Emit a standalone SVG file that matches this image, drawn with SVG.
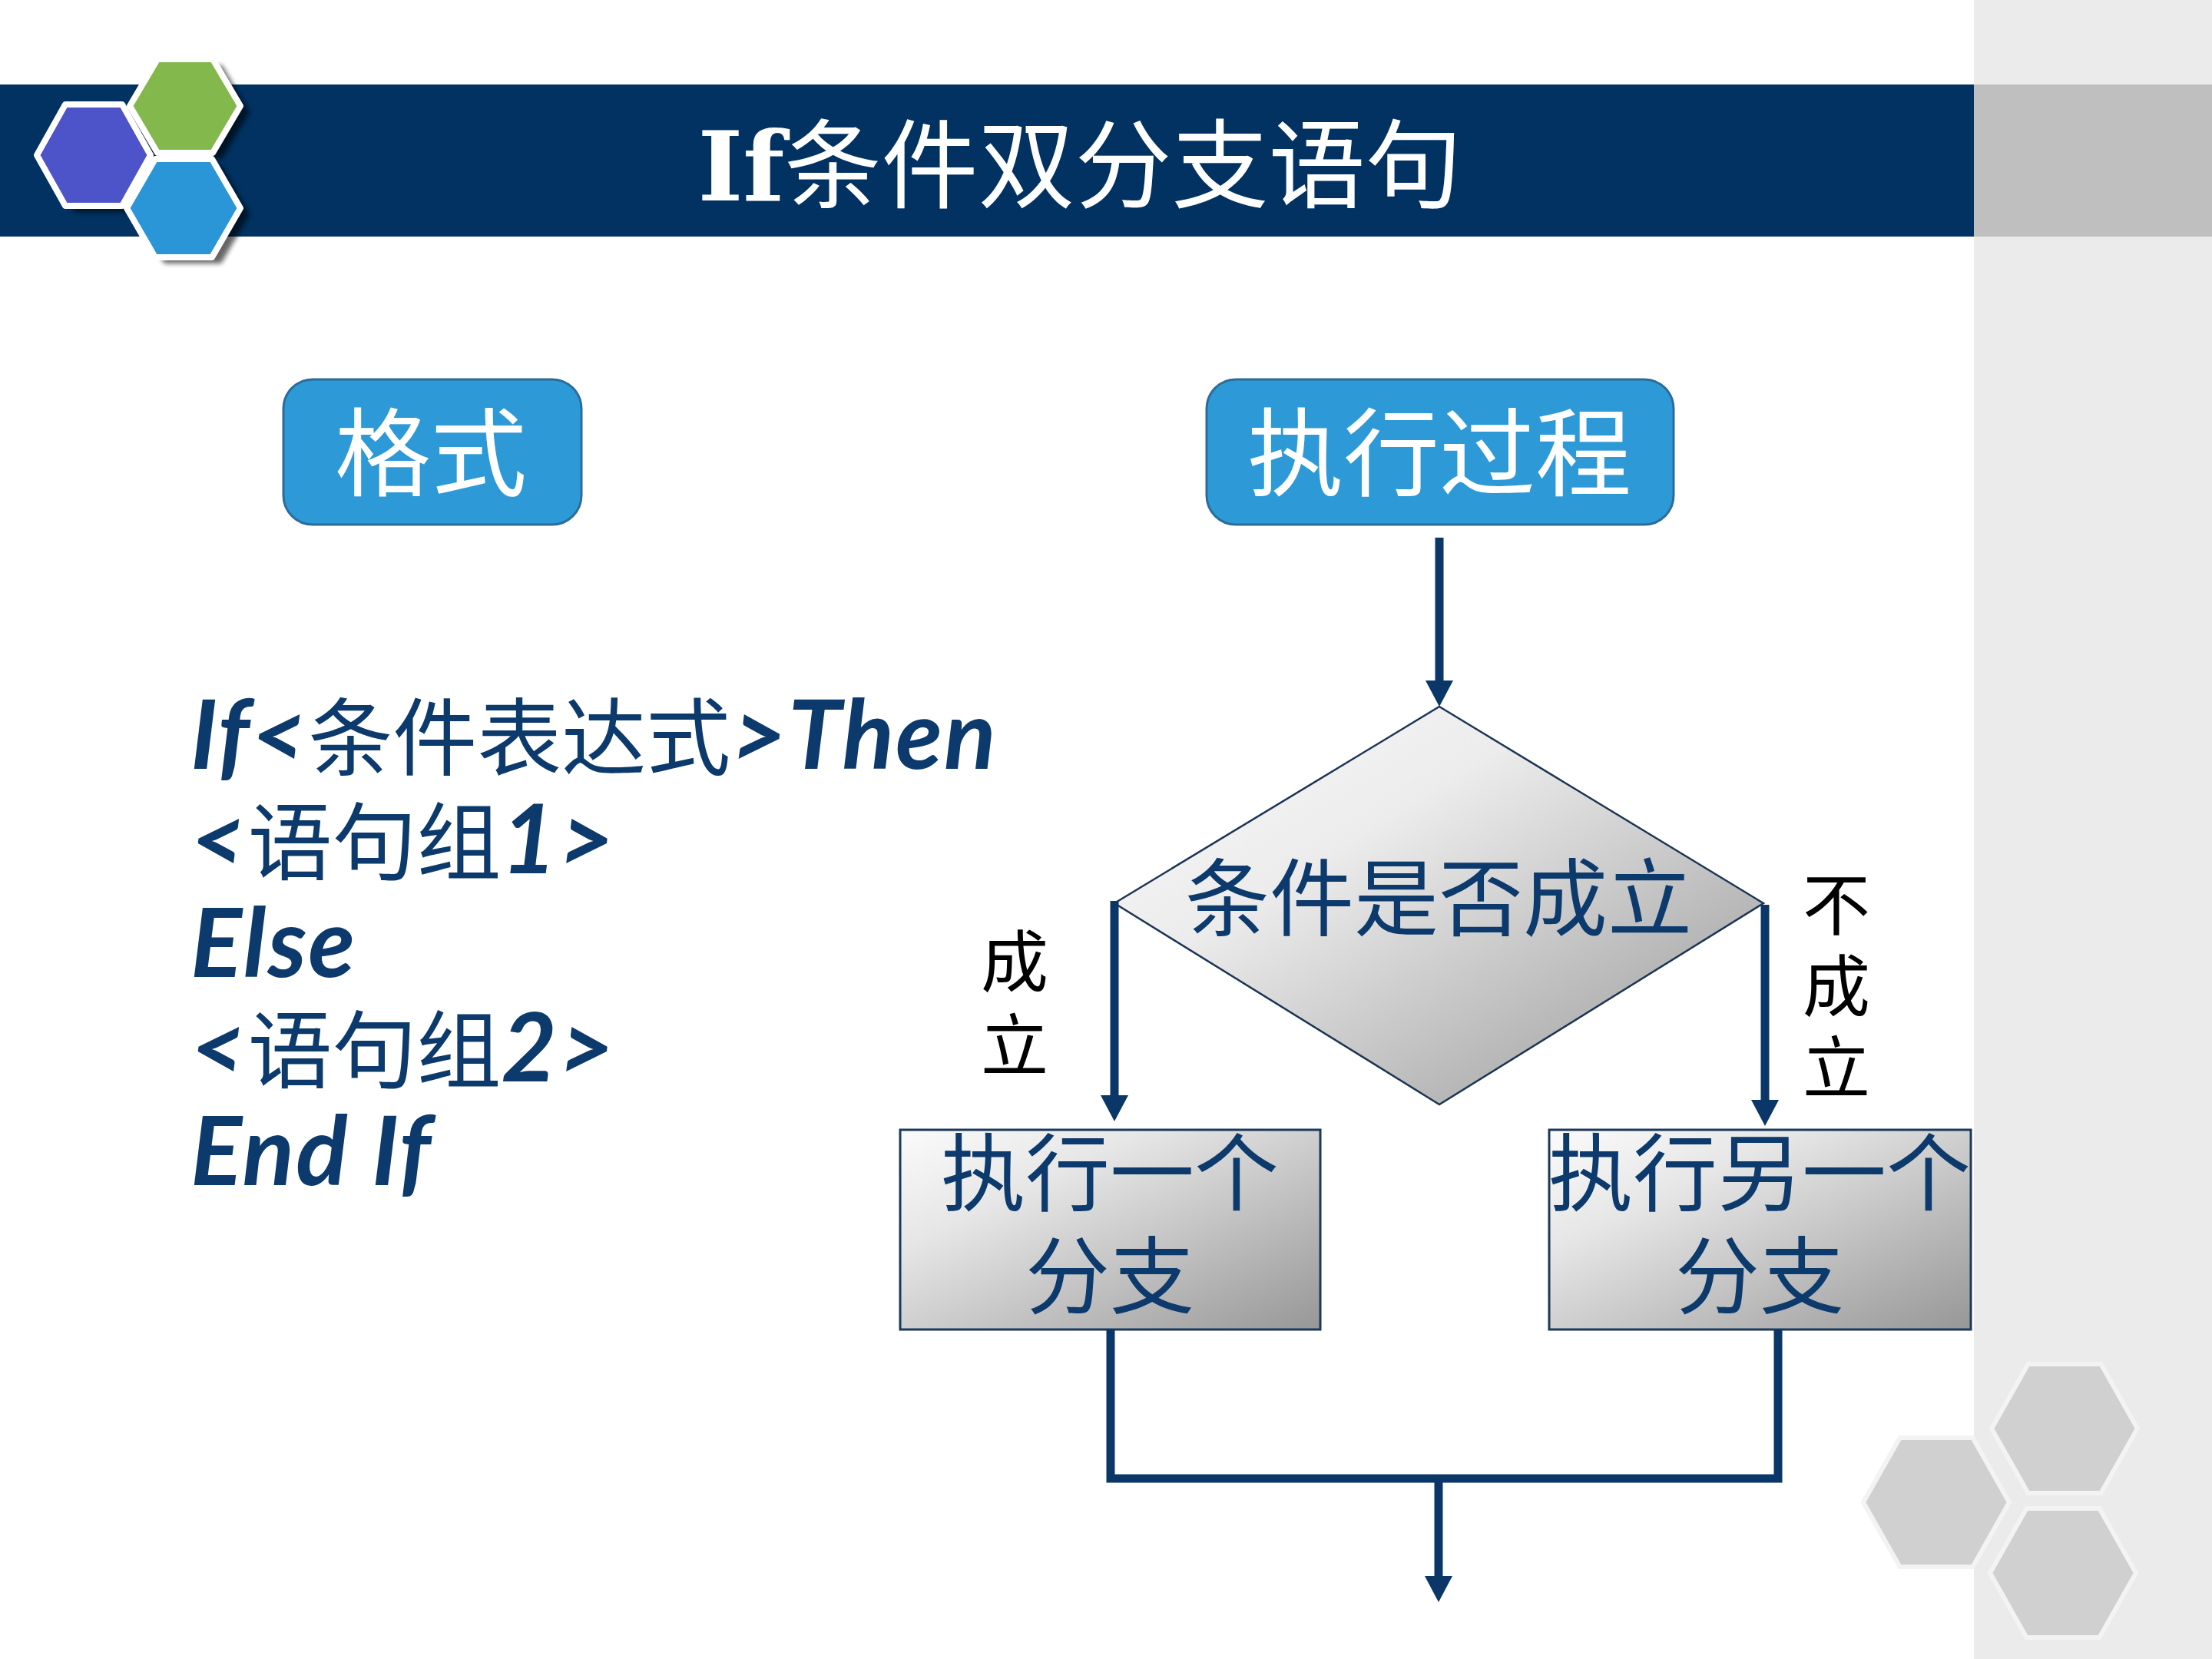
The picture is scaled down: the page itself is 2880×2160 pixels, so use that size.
<svg xmlns="http://www.w3.org/2000/svg" width="2880" height="2160" viewBox="0 0 2880 2160">
<defs>
<style>
.cjk{font-family:"Noto Sans CJK SC","Noto Sans CJK TC",sans-serif;}
.navyTxt{fill:#0d3a6c;}
.lat{font-family:Lato,"Liberation Sans",sans-serif;font-weight:bold;font-style:italic;fill:#0d3a6c;letter-spacing:2px;}
.conn{stroke:#0b3668;stroke-width:11;fill:none;}
.btn{fill:#2d9ad7;stroke:#2a6d9b;stroke-width:3;}
.btnTxt{fill:#ffffff;font-size:125px;text-anchor:middle;}
.lbl{fill:#000000;font-size:88px;text-anchor:middle;}
.hexG{fill:#d0d0d0;stroke:#f3f3f3;stroke-width:6;}
</style>
<linearGradient id="gDia" x1="0" y1="0" x2="1" y2="1">
<stop offset="0" stop-color="#fafafa"/>
<stop offset="0.35" stop-color="#ececec"/>
<stop offset="1" stop-color="#959595"/>
</linearGradient>
<linearGradient id="gBox" x1="0" y1="0" x2="1" y2="1">
<stop offset="0" stop-color="#fbfbfb"/>
<stop offset="0.3" stop-color="#e6e6e6"/>
<stop offset="1" stop-color="#979797"/>
</linearGradient>
<marker id="arr" markerUnits="userSpaceOnUse" markerWidth="34" markerHeight="36" viewBox="0 0 34 36" refX="0" refY="18" orient="auto">
<path d="M0,0 L34,18 L0,36 Z" fill="#0b3668"/>
</marker>
<filter id="sh" x="-20%" y="-20%" width="140%" height="140%">
<feGaussianBlur stdDeviation="3"/>
</filter>
</defs>

<!-- background -->
<rect x="0" y="0" width="2880" height="2160" fill="#ffffff"/>
<rect x="2570" y="0" width="310" height="2160" fill="#ebebeb"/>

<!-- header -->
<g id="header">
<rect x="0" y="110" width="2570" height="198" fill="#013262"/>
<rect x="2570" y="110" width="310" height="198" fill="#bfbfbf"/>
<text x="1406" y="261" text-anchor="middle" font-size="126" fill="#ffffff"><tspan font-family="DejaVu Serif,Liberation Serif,serif" font-weight="bold">If</tspan><tspan class="cjk">条件双分支语句</tspan></text>
</g>

<!-- logo -->
<g id="logo">
<g filter="url(#sh)" fill="#000000" opacity="0.6">
<polygon points="60,210 97,144 171,144 208,210 171,276 97,276"/>
<polygon points="181,146 217,85 289,85 325,146 289,207 217,207"/>
<polygon points="177,279 214,215 288,215 325,279 288,343 214,343"/>
</g>
<g stroke="#ffffff" stroke-width="8" stroke-linejoin="round">
<polygon points="48,202 85,136 159,136 196,202 159,268 85,268" fill="#4d53c8"/>
<polygon points="169,138 205,77 277,77 313,138 277,199 205,199" fill="#83b84d"/>
<polygon points="165,271 202,207 276,207 313,271 276,335 202,335" fill="#2b96d7"/>
</g>
</g>

<!-- decorative hexes bottom right -->
<g id="decor">
<polygon class="hexG" points="2593,1860 2640.5,1776 2735.5,1776 2783,1860 2735.5,1944 2640.5,1944"/>
<polygon class="hexG" points="2426,1956 2473.5,1872 2568.5,1872 2616,1956 2568.5,2040 2473.5,2040"/>
<polygon class="hexG" points="2591,2048 2638.5,1964 2733.5,1964 2781,2048 2733.5,2132 2638.5,2132"/>
</g>

<!-- format button -->
<g id="btnFormat">
<rect class="btn" x="369" y="494" width="388" height="189" rx="38" ry="38"/>
<text class="cjk btnTxt" x="561" y="636">格式</text>
</g>

<!-- execution button -->
<g id="btnExec">
<rect class="btn" x="1571" y="494" width="608" height="189" rx="38" ry="38"/>
<text class="cjk btnTxt" x="1874" y="636">执行过程</text>
</g>

<!-- code -->
<g id="code">
<text x="248" y="1001" font-size="110"><tspan class="lat" font-size="125">If&lt;</tspan><tspan class="cjk navyTxt">条件表达式</tspan><tspan class="lat" font-size="125">&gt;Then</tspan></text>
<text x="248" y="1137" font-size="110"><tspan class="lat" font-size="125">&lt;</tspan><tspan class="cjk navyTxt">语句组</tspan><tspan class="lat" font-size="125">1&gt;</tspan></text>
<text x="248" y="1272" class="lat" font-size="125">Else</text>
<text x="248" y="1408" font-size="110"><tspan class="lat" font-size="125">&lt;</tspan><tspan class="cjk navyTxt">语句组</tspan><tspan class="lat" font-size="125">2&gt;</tspan></text>
<text x="248" y="1543" class="lat" font-size="125" letter-spacing="5">End If</text>
</g>

<!-- decision -->
<g id="decision">
<polygon points="1874,920 2296,1176 1874,1438 1451,1176" fill="url(#gDia)" stroke="#1c3555" stroke-width="2.5"/>
<text class="cjk navyTxt" x="1873" y="1210" font-size="110" text-anchor="middle">条件是否成立</text>
</g>

<!-- branch boxes -->
<g id="boxYes">
<rect x="1172" y="1471" width="547" height="260" fill="url(#gBox)" stroke="#1b3a5a" stroke-width="3"/>
<text class="cjk navyTxt" font-size="110" text-anchor="middle"><tspan x="1445" y="1568">执行一个</tspan><tspan x="1445" y="1702">分支</tspan></text>
</g>
<g id="boxNo">
<rect x="2017" y="1471" width="549" height="260" fill="url(#gBox)" stroke="#1b3a5a" stroke-width="3"/>
<text class="cjk navyTxt" font-size="110" text-anchor="middle"><tspan x="2291" y="1568">执行另一个</tspan><tspan x="2291" y="1702">分支</tspan></text>
</g>

<!-- connectors -->
<g id="connectors">
<line class="conn" x1="1874" y1="700" x2="1874" y2="886" marker-end="url(#arr)"/>
<line class="conn" x1="1451" y1="1173" x2="1451" y2="1426" marker-end="url(#arr)"/>
<line class="conn" x1="2298" y1="1178" x2="2298" y2="1432" marker-end="url(#arr)"/>
<polyline class="conn" points="1446,1731 1446,1925 2315,1925 2315,1731"/>
<line class="conn" x1="1873" y1="1925" x2="1873" y2="2052" marker-end="url(#arr)"/>
</g>

<!-- connector labels -->
<g id="labels">
<text class="cjk lbl"><tspan x="1321" y="1284">成</tspan><tspan x="1321" y="1393">立</tspan></text>
<text class="cjk lbl"><tspan x="2391" y="1210">不</tspan><tspan x="2391" y="1316">成</tspan><tspan x="2391" y="1422">立</tspan></text>
</g>
</svg>
